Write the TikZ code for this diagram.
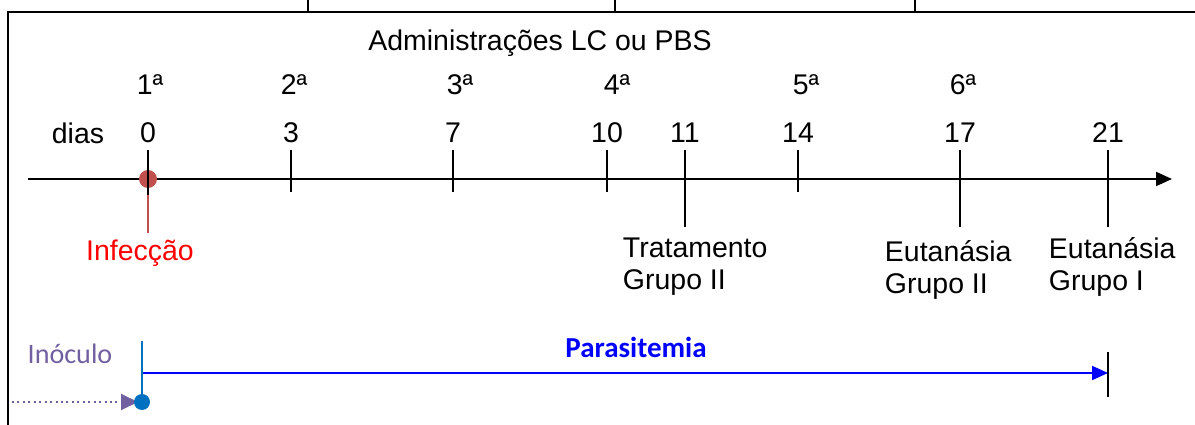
\documentclass[tikz,border=0pt]{standalone}
\usepackage{fontspec}
\setmainfont{Liberation Sans}
\newfontfamily\calibri{Carlito}
\usetikzlibrary{arrows.meta}
\definecolor{infred}{RGB}{192,80,77}
\definecolor{inoblue}{RGB}{0,112,192}
\definecolor{inogray}{RGB}{112,96,160}
\begin{document}
\begin{tikzpicture}[x=0.02cm,y=-0.02cm,line width=1.1pt,
  every node/.style={inner sep=0pt,font=\fontsize{16.2}{18}\selectfont},
  txt/.style={anchor=north west,align=left},
  tri/.style={-{Triangle[length=0.32cm,width=0.28cm]}}]
\path[use as bounding box] (0,0) rectangle (1195,425);
\draw (8,425) -- (8,12) -- (1195,12);
\foreach \x in {308,615,915} \draw (\x,0) -- (\x,12);
\node (adm) at (540,43) {Administrações LC ou PBS};
\node (dias) at (78,133) {dias};
\foreach \n/\x in {1/150,2/294,3/460,4/617,5/806,6/963}
  \node (o\n) at (\x,85) {\n ª};
\draw[tri] (28,179) -- (1172,179);
\foreach \d/\x in {0/148,3/291,7/453,10/607,11/685,14/798,17/960,21/1108}{
  \node (n\d) at (\x,133) {\d};
  \coordinate (t\d) at (\x,179);
}
\foreach \d in {3,7,10,14} \draw (t\d) ++(0,-29) -- ++(0,42);
\foreach \d in {11,17,21} \draw (t\d) ++(0,-29) -- ++(0,77);
\draw[infred,line width=1.4pt] (t0) -- ++(0,54);
\fill[infred] (t0) circle (9);
\draw (t0) ++(0,-29) -- ++(0,45);
\node[red] (inf) at (140,253) {Infecção};
\node[txt] (trat) at (622,237) {Tratamento\\Grupo II};
\node[txt] (eut2) at (884,240) {Eutanásia\\Grupo II};
\node[txt] (eut1) at (1048,237) {Eutanásia\\Grupo I};
\node[inogray,font=\calibri\fontsize{16}{18}\selectfont] (ino) at (70,354) {Inóculo};
\node[blue,font=\calibri\bfseries\fontsize{16.5}{18}\selectfont] (par) at (636,347) {Parasitemia};
\coordinate (ini) at (142,402);
\coordinate (fim) at (1108,373);
\draw[inoblue] (142,341) -- (ini);
\draw[inogray,dotted,-{Triangle[length=0.34cm,width=0.32cm]}] (12,402) -- ([xshift=-4*0.02cm]ini);
\fill[inoblue] (ini) circle (8);
\draw[blue,tri] (143,373) -- (fim);
\draw (1108,352) -- (1108,397);
\end{tikzpicture}
\end{document}
